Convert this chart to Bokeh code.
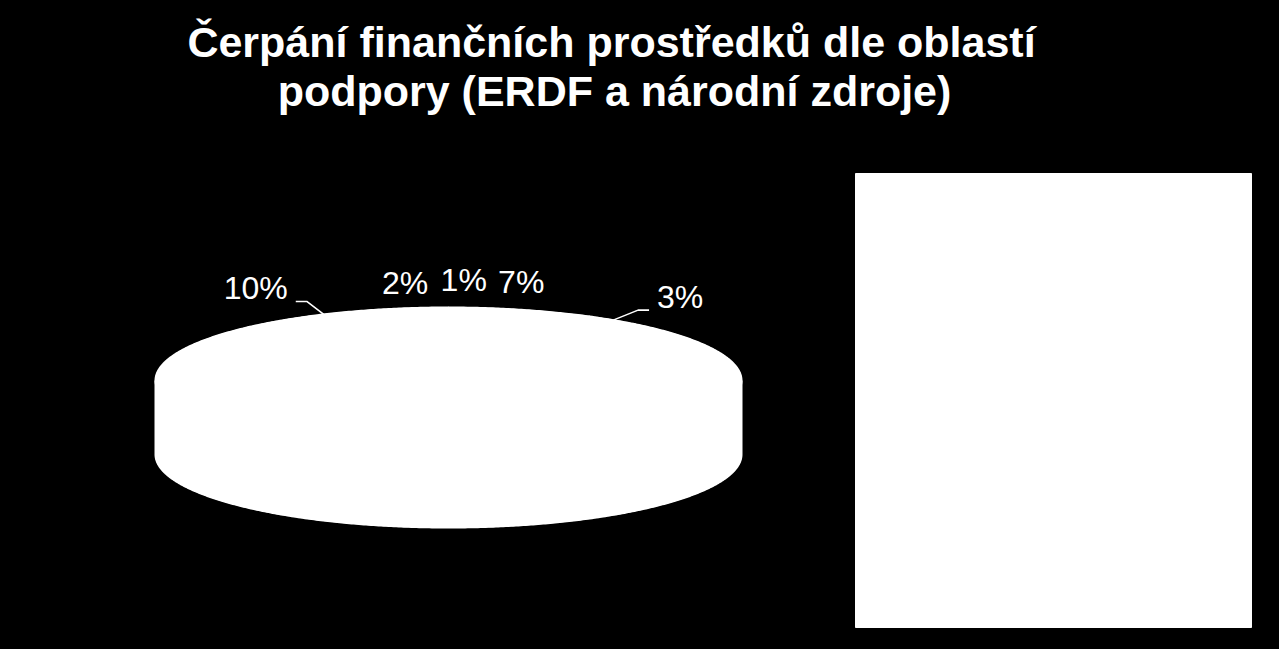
import numpy as np
from bokeh.plotting import figure
from bokeh.models import Range1d
from bokeh.embed import file_html
from bokeh.resources import INLINE
from bokeh.core.properties import value

# ---------------- data ----------------
title_lines = ["Čerpání finančních prostředků dle oblastí",
               "podpory (ERDF a národní zdroje)"]
# slices clockwise from 12 o'clock
slice_values = [1, 7, 3, 77, 10, 2]
slice_labels = ["1%", "7%", "3%", "", "10%", "2%"]
leader_flags = [False, False, True, False, True, False]

# ---------------- layout ----------------
W, H = 1263, 633
CX, CY, A, B, DEPTH = 448, 380, 293, 73, 74
label_offsets = [(6, -28), (-9, -28), (67, -23), (0, 0), (-68, -26), (-25, -25)]
LABEL_PX = 32
TITLE_X, TITLE_Y = [611, 614], [41, 90]
LEGEND_BOX = dict(left=855, right=1251, top=173, bottom=627)

p = figure(width=W, height=H, output_backend="svg", toolbar_location=None,
           x_range=Range1d(0, W), y_range=Range1d(H, 0),
           min_border=0, background_fill_color="black",
           border_fill_color="black", outline_line_color=None)
p.axis.visible = False
p.grid.visible = False


def pt(t_deg, yoff=0.0):
    t = np.radians(t_deg)
    return CX + A * np.sin(t), CY - B * np.cos(t) + yoff


vals = np.array(slice_values, dtype=float)
ends = np.cumsum(vals) / vals.sum() * 360.0
starts = ends - vals / vals.sum() * 360.0
mids = (starts + ends) / 2

# silhouette of the 3D pie (top back arc + front bottom arc)
t_back = np.linspace(-90, 90, 240)
t_front = np.linspace(90, 270, 240)
bx, by = pt(t_back)
fx, fy = pt(t_front, DEPTH)
p.patch(list(np.concatenate([bx, fx])), list(np.concatenate([by, fy])),
        fill_color="white", line_color="white", line_width=1)

# side faces of the slices (visible front part: 90..270 deg)
side_xs, side_ys = [], []
for s, e in zip(starts, ends):
    s2, e2 = max(s, 90.0), min(e, 270.0)
    if e2 <= s2:
        continue
    ts = np.linspace(s2, e2, max(4, int((e2 - s2) * 2)))
    xt, yt = pt(ts)
    xb, yb = pt(ts[::-1], DEPTH)
    side_xs.append(list(np.concatenate([xt, xb])))
    side_ys.append(list(np.concatenate([yt, yb])))
p.patches(side_xs, side_ys, fill_color="white", line_color="white", line_width=2)

# top faces of the slices
top_xs, top_ys = [], []
for s, e in zip(starts, ends):
    ts = np.linspace(s, e, max(4, int((e - s) * 2)))
    x, y = pt(ts)
    top_xs.append([CX] + list(x))
    top_ys.append([CY] + list(y))
p.patches(top_xs, top_ys, fill_color="white", line_color="white", line_width=2)

# labels and leaders
lx, ly, lt = [], [], []
lead_xs, lead_ys = [], []
for m, lab, (dx, dy), lead in zip(mids, slice_labels, label_offsets, leader_flags):
    if not lab:
        continue
    ex, ey = pt(m)
    cx_, cy_ = ex + dx, ey + dy
    lx.append(cx_); ly.append(cy_); lt.append(lab)
    if lead:
        side = -1 if dx < 0 else 1
        hw = LABEL_PX * (0.556 * (len(lab) - 1) + 0.889) / 2
        end_x = cx_ - side * (hw + 8)
        end_y = cy_ + 13
        elb_x = end_x - side * 11
        lead_xs.append([ex, elb_x, end_x])
        lead_ys.append([ey, end_y, end_y])

p.multi_line(lead_xs, lead_ys, line_color="white", line_width=1.6)
p.text(x=lx, y=ly, text=lt, text_align="center", text_baseline="middle",
       text_font=value("Liberation Sans"), text_font_size=f"{LABEL_PX}px",
       text_color="white")

# title
p.text(x=TITLE_X, y=TITLE_Y, text=title_lines, text_align="center",
       text_baseline="middle", text_font=value("Liberation Sans"),
       text_font_style="bold", text_font_size="43px", text_color="white")

# legend box (entries white on white)
p.quad(fill_color="white", line_color="white", **{k: [v] for k, v in LEGEND_BOX.items()})

html = file_html(p, INLINE)
html = html.replace("</head>", "<style>html,body{background:#000;}</style></head>", 1)
open("out.html", "w").write(html)
